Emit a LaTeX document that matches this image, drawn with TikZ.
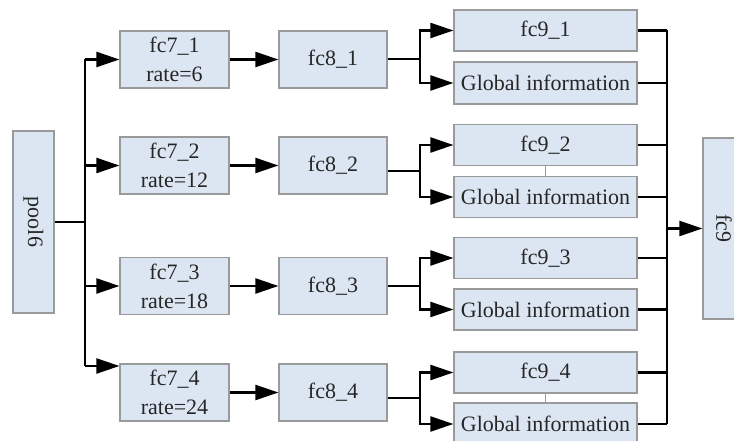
\documentclass[tikz,border=0pt]{standalone}
\usepackage{fontspec}
\setmainfont{Liberation Serif}
\usetikzlibrary{arrows.meta}
\definecolor{boxfill}{HTML}{DCE6F2}
\definecolor{boxline}{HTML}{9A9A9A}
\begin{document}
\begin{tikzpicture}[x=1pt,y=-1pt,
  box/.style={draw=boxline,line width=1.2pt,fill=boxfill,inner sep=0pt,anchor=center,
    font=\fontsize{22}{29}\selectfont,align=center,text=black!85},
  conn/.style={line width=2.3pt,black},
  arr/.style={conn,-{Triangle[length=23pt,width=15pt]}},
  thinl/.style={line width=0.7pt,boxline}]
\useasboundingbox (0,0) rectangle (734,441);
% left column
\node[box,minimum width=41pt,minimum height=182pt] (pool6) at (33.5,222) {\rotatebox{-90}{pool6}};
\node[box,minimum width=109pt,minimum height=57pt] (fc71) at (174.5,59.5) {fc7\_1\\rate=6};
\node[box,minimum width=109pt,minimum height=57pt] (fc72) at (174.5,165.5) {fc7\_2\\rate=12};
\node[box,minimum width=109pt,minimum height=57pt] (fc73) at (174.5,286) {fc7\_3\\rate=18};
\node[box,minimum width=109pt,minimum height=57pt] (fc74) at (174.5,392.5) {fc7\_4\\rate=24};
\node[box,minimum width=108pt,minimum height=57pt] (fc81) at (333,59.5) {fc8\_1};
\node[box,minimum width=108pt,minimum height=57pt] (fc82) at (333,165.5) {fc8\_2};
\node[box,minimum width=108pt,minimum height=57pt] (fc83) at (333,286) {fc8\_3};
\node[box,minimum width=108pt,minimum height=57pt] (fc84) at (333,392.5) {fc8\_4};
\node[box,minimum width=183pt,minimum height=41pt] (fc91) at (545.5,30.5) {fc9\_1};
\node[box,minimum width=183pt,minimum height=42pt] (gi1) at (545.5,83) {Global information};
\node[box,minimum width=183pt,minimum height=41pt] (fc92) at (545.5,145) {fc9\_2};
\node[box,minimum width=183pt,minimum height=41pt] (gi2) at (545.5,197) {Global information};
\node[box,minimum width=183pt,minimum height=41pt] (fc93) at (545.5,258) {fc9\_3};
\node[box,minimum width=183pt,minimum height=41pt] (gi3) at (545.5,309.5) {Global information};
\node[box,minimum width=183pt,minimum height=41pt] (fc94) at (545.5,372.5) {fc9\_4};
\node[box,minimum width=183pt,minimum height=42pt] (gi4) at (545.5,424) {Global information};
\node[box,minimum width=42pt,minimum height=181pt] (fc9) at (724,228.5) {\rotatebox{-90}{fc9}};
% thin links
\draw[thinl] (fc92.south) -- (gi2.north);
\draw[thinl] (fc94.south) -- (gi4.north);
% left bus
\coordinate (busL) at (85,222);
\coordinate (in4) at (85,366);
\draw[conn] (pool6.east) -- (busL);
\draw[conn] (busL |- fc71.west) -- (in4);
\draw[arr] (busL |- fc71.west) -- (fc71.west);
\draw[arr] (busL |- fc72.west) -- (fc72.west);
\draw[arr] (busL |- fc73.west) -- (fc73.west);
\draw[arr] (in4) -- (fc74.west |- in4);
% fc7 -> fc8
\draw[arr] (fc71.east) -- (fc81.west);
\draw[arr] (fc72.east) -- (fc82.west);
\draw[arr] (fc73.east) -- (fc83.west);
\draw[arr] (fc74.east) -- (fc84.west);
% splits
\coordinate (s1) at (420,59);
\coordinate (s2) at (420,171);
\coordinate (s3) at (420,286);
\coordinate (s4) at (420,398);
\foreach \i in {1,2,3,4}{
  \draw[conn] (fc8\i.east |- s\i) -- (s\i);
  \draw[arr] (s\i) |- (fc9\i.west);
  \draw[arr] (s\i) |- (gi\i.west);
}
% right bus
\coordinate (busR) at (667,228.5);
\foreach \n in {fc91,gi1,fc92,gi2,fc93,gi3,fc94,gi4}{
  \draw[conn] (\n.east) -- (busR |- \n.east);
}
\draw[conn] (busR |- fc91.east) -- (busR |- gi4.east);
\draw[arr] (busR) -- (fc9.west);
\end{tikzpicture}
\end{document}
